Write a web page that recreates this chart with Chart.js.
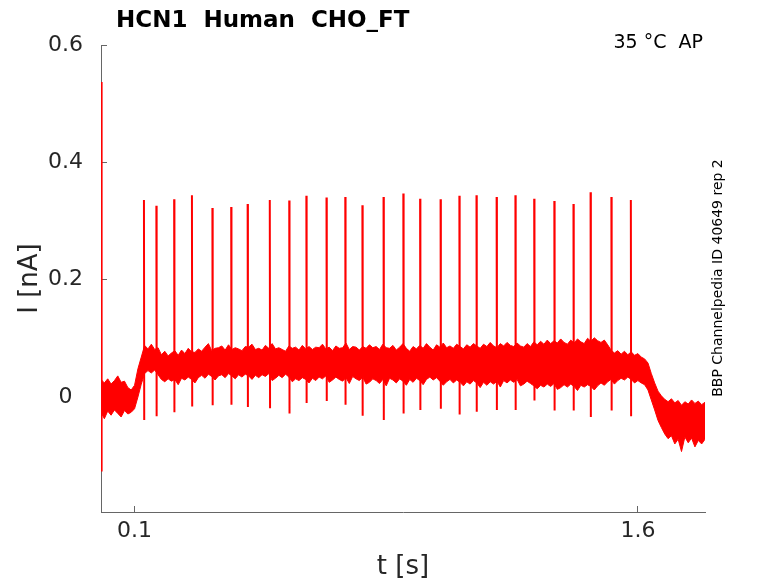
<!DOCTYPE html>
<html>
<head>
<meta charset="utf-8">
<script src="https://cdn.jsdelivr.net/npm/chart.js@4.4.1/dist/chart.umd.min.js"></script>
<style>
  html, body { margin: 0; padding: 0; background: #fff; }
  canvas { display: block; }
</style>
</head>
<body>
<canvas id="chart" width="778" height="583"></canvas>
<script>
// recorded current, several sweeps overlaid (values in nA, time in s)
const titleText = 'HCN1  Human  CHO_FT';
const conditionText = '35 °C  AP';
const sourceText = 'BBP Channelpedia ID 40649 rep 2';

const xTicks = [0.1, 1.6];
const yTicks = [0, 0.2, 0.4, 0.6];

// upper and lower edge of the noisy sweeps, sampled every 10 ms from t = 0
const sampleStep = 0.01;
const bandTop = [
  0.030, 0.024, 0.031, 0.022, 0.028, 0.036, 0.025, 0.027, 0.016, 0.012,
  0.020, 0.048, 0.068, 0.088, 0.082, 0.090, 0.081, 0.084, 0.072, 0.078,
  0.070, 0.075, 0.079, 0.071, 0.080, 0.074, 0.083, 0.077, 0.076, 0.082,
  0.078, 0.085, 0.091, 0.079, 0.083, 0.084, 0.087, 0.080, 0.089, 0.081,
  0.084, 0.082, 0.079, 0.086, 0.085, 0.090, 0.081, 0.083, 0.080, 0.088,
  0.083, 0.091, 0.082, 0.084, 0.081, 0.078, 0.087, 0.083, 0.085, 0.080,
  0.088, 0.082, 0.086, 0.081, 0.085, 0.084, 0.090, 0.082, 0.085, 0.079,
  0.087, 0.083, 0.084, 0.092, 0.081, 0.086, 0.085, 0.080, 0.086, 0.083,
  0.089, 0.084, 0.086, 0.081, 0.090, 0.084, 0.083, 0.088, 0.080, 0.085,
  0.091, 0.083, 0.078, 0.086, 0.082, 0.088, 0.083, 0.091, 0.085, 0.080,
  0.089, 0.085, 0.092, 0.084, 0.087, 0.083, 0.090, 0.086, 0.082, 0.089,
  0.085, 0.091, 0.087, 0.083, 0.090, 0.086, 0.093, 0.087, 0.084, 0.091,
  0.087, 0.093, 0.088, 0.086, 0.092, 0.087, 0.085, 0.091, 0.086, 0.094,
  0.089, 0.095, 0.090, 0.097, 0.091, 0.096, 0.092, 0.099, 0.093, 0.090,
  0.097, 0.092, 0.099, 0.094, 0.091, 0.100, 0.095, 0.101, 0.096, 0.093,
  0.097, 0.089, 0.080, 0.075, 0.079, 0.073, 0.078, 0.072, 0.077, 0.071,
  0.074, 0.068, 0.065, 0.058, 0.040, 0.024, 0.010, 0.002, -0.004, -0.008,
  -0.003, -0.010, -0.006, -0.014, -0.008, -0.012, -0.005, -0.011, -0.007, -0.013,
  -0.009
];
const bandBottom = [
  -0.026, -0.037, -0.024, -0.031, -0.022, -0.028, -0.034, -0.023, -0.029, -0.026,
  -0.020, 0.000, 0.022, 0.040, 0.045, 0.041, 0.046, 0.038, 0.030, 0.026,
  0.031, 0.027, 0.030, 0.021, 0.032, 0.029, 0.034, 0.030, 0.024, 0.033,
  0.037, 0.032, 0.039, 0.035, 0.029, 0.036, 0.038, 0.033, 0.040, 0.036,
  0.031, 0.038, 0.034, 0.039, 0.036, 0.030, 0.037, 0.033, 0.038, 0.035,
  0.040, 0.028, 0.032, 0.037, 0.033, 0.039, 0.034, 0.026, 0.031, 0.028,
  0.033, 0.030, 0.024, 0.032, 0.028, 0.034, 0.031, 0.036, 0.025, 0.029,
  0.034, 0.030, 0.027, 0.033, 0.023, 0.035, 0.031, 0.028, 0.034, 0.022,
  0.025, 0.031, 0.028, 0.023, 0.030, 0.019, 0.032, 0.029, 0.024, 0.031,
  0.027, 0.020, 0.030, 0.025, 0.032, 0.028, 0.021, 0.030, 0.034, 0.029,
  0.033, 0.027, 0.020, 0.026, 0.030, 0.024, 0.029, 0.025, 0.019, 0.026,
  0.022, 0.028, 0.024, 0.016, 0.025, 0.020, 0.026, 0.022, 0.027, 0.017,
  0.028, 0.024, 0.029, 0.025, 0.030, 0.019, 0.022, 0.027, 0.023, 0.019,
  0.014, 0.020, 0.017, 0.022, 0.018, 0.023, 0.013, 0.016, 0.021, 0.017,
  0.022, 0.018, 0.011, 0.020, 0.017, 0.021, 0.018, 0.012, 0.019, 0.024,
  0.020, 0.026, 0.030, 0.022, 0.028, 0.032, 0.029, 0.034, 0.030, 0.024,
  0.028, 0.024, 0.021, 0.012, -0.005, -0.022, -0.040, -0.052, -0.063, -0.071,
  -0.066, -0.080, -0.072, -0.093, -0.068, -0.078, -0.070, -0.085, -0.074, -0.080,
  -0.072
];

// fast transients: capacitive artefact at t = 0, then the action-potential spikes
const spikeTimes = [
  0.001, 0.128, 0.165, 0.218, 0.271, 0.332, 0.388, 0.437, 0.503, 0.561,
  0.612, 0.672, 0.728, 0.779, 0.842, 0.901, 0.951, 1.012, 1.068, 1.119,
  1.179, 1.235, 1.291, 1.351, 1.408, 1.459, 1.521, 1.579
];
const spikePeaks = [
  0.537, 0.336, 0.326, 0.337, 0.344, 0.322, 0.324, 0.329, 0.336, 0.335,
  0.343, 0.340, 0.341, 0.327, 0.341, 0.347, 0.338, 0.337, 0.343, 0.344,
  0.341, 0.344, 0.338, 0.334, 0.329, 0.349, 0.341, 0.336
];
const spikeTroughs = [
  -0.127, -0.039, -0.033, -0.026, -0.016, -0.014, -0.013, -0.017, -0.019, -0.028,
  -0.010, -0.007, -0.013, -0.032, -0.039, -0.028, -0.022, -0.020, -0.030, -0.025,
  -0.022, -0.022, -0.006, -0.023, -0.023, -0.034, -0.023, -0.033
];

const topPts = bandTop.map((v, i) => ({ x: i * sampleStep, y: v }));
const bottomPts = bandBottom.map((v, i) => ({ x: i * sampleStep, y: v }));
const spikePts = [];
spikeTimes.forEach((t, i) => {
  spikePts.push({ x: t, y: spikePeaks[i] });
  spikePts.push({ x: t + 0.0008, y: spikeTroughs[i] });
  spikePts.push({ x: t + 0.0008, y: null });
});

const fontFamily = '"DejaVu Sans", "Liberation Sans", sans-serif';

const extraText = {
  id: 'extraText',
  afterDraw(chart) {
    const ctx = chart.ctx;
    ctx.save();
    ctx.fillStyle = '#000';
    ctx.textBaseline = 'alphabetic';
    ctx.font = 'bold 23px ' + fontFamily;
    ctx.textAlign = 'left';
    ctx.fillText(titleText, 116, 27);
    ctx.font = '19px ' + fontFamily;
    ctx.textAlign = 'right';
    ctx.fillText(conditionText, 703, 48);
    ctx.translate(722, 278);
    ctx.rotate(-Math.PI / 2);
    ctx.font = '14px ' + fontFamily;
    ctx.textAlign = 'center';
    ctx.fillText(sourceText, 0, 0);
    ctx.restore();
  }
};

new Chart(document.getElementById('chart'), {
  type: 'line',
  data: {
    datasets: [
      { data: topPts, borderColor: '#ff0000', borderWidth: 1, fill: false },
      { data: bottomPts, borderColor: '#ff0000', borderWidth: 1, backgroundColor: '#ff0000', fill: '-1' },
      { data: spikePts, borderColor: '#ff0000', borderWidth: 2, fill: false, spanGaps: false }
    ]
  },
  options: {
    responsive: false,
    animation: false,
    events: [],
    layout: { padding: { top: 45, right: 73, left: 0, bottom: 0 } },
    elements: { point: { radius: 0 }, line: { tension: 0 } },
    plugins: { legend: { display: false }, tooltip: { enabled: false } },
    scales: {
      x: {
        type: 'linear',
        min: 0,
        max: 1.8,
        afterFit: s => { s.height = 71; },
        afterBuildTicks: s => { s.ticks = xTicks.map(v => ({ value: v })); },
        border: { display: true, color: '#666', width: 1 },
        grid: { display: true, drawOnChartArea: false, drawTicks: true, tickLength: -6, color: '#666' },
        ticks: { color: '#262626', padding: 12, maxRotation: 0, font: { family: fontFamily, size: 22 }, callback: v => String(v) },
        title: { display: true, text: 't [s]', color: '#262626', padding: { top: 0, bottom: 0 }, font: { family: fontFamily, size: 26 } }
      },
      y: {
        type: 'linear',
        min: -0.196,
        max: 0.6,
        afterFit: s => { s.width = 101; },
        afterBuildTicks: s => { s.ticks = yTicks.map(v => ({ value: v })); },
        border: { display: true, color: '#666', width: 1 },
        grid: { display: true, drawOnChartArea: false, drawTicks: true, tickLength: -6, color: '#666' },
        ticks: { color: '#262626', padding: 24, crossAlign: 'center', font: { family: fontFamily, size: 22 }, callback: v => String(v) },
        title: { display: true, text: 'I [nA]', color: '#262626', padding: { top: 15, bottom: 0 }, font: { family: fontFamily, size: 26 } }
      }
    }
  },
  plugins: [extraText]
});
</script>
</body>
</html>
